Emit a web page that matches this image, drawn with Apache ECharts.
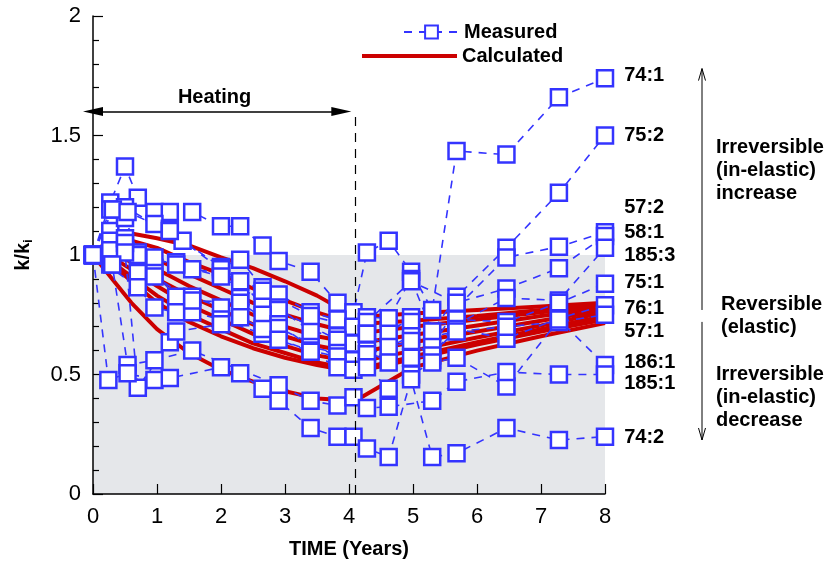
<!DOCTYPE html>
<html>
<head>
<meta charset="utf-8">
<script src="https://cdn.jsdelivr.net/npm/echarts@6/dist/echarts.min.js"></script>
<style>
html, body { margin: 0; padding: 0; background: #fff; }
#chart { width: 831px; height: 568px; }
</style>
</head>
<body>
<div id="chart"></div>
<script>
// measured k/ki, [time (years), value]
const s74_1 = [[0,1],[0.27,1.22],[0.5,1.37],[0.7,1.24],[0.96,1.18],[1.2,1.18],[1.55,1.18],[2.0,1.12],[2.3,1.12],[2.65,1.04],[2.9,0.975],[3.4,0.93],[3.82,0.80],[4.07,0.76],[4.28,1.01],[4.62,1.06],[4.97,0.93],[5.3,0.77],[5.68,1.435],[6.46,1.42],[7.28,1.66],[8,1.74]];
const s75_2 = [[0,1],[0.27,1.19],[0.5,1.2],[0.96,1.13],[1.2,1.11],[1.4,1.06],[2.0,0.95],[2.3,0.98],[2.65,0.865],[2.9,0.835],[3.4,0.76],[3.82,0.73],[4.07,0.69],[4.28,0.74],[4.62,0.735],[4.97,0.90],[5.3,0.68],[5.68,0.825],[6.46,1.03],[7.28,1.26],[8,1.5]];
const s57_2 = [[0,1],[0.27,1.10],[0.5,1.155],[0.7,1.01],[0.96,0.99],[1.3,0.97],[1.55,0.94],[2.0,0.925],[2.3,0.89],[2.65,0.79],[2.9,0.78],[3.4,0.68],[3.82,0.66],[4.07,0.63],[4.28,0.69],[4.62,0.67],[4.97,0.74],[5.3,0.615],[5.68,0.78],[6.46,0.99],[7.28,1.035],[8,1.095]];
const s58_1 = [[0,1],[0.31,1.19],[0.54,1.18],[1.2,1.10],[2.0,0.94],[2.65,0.85],[3.4,0.745],[4.07,0.70],[4.28,0.72],[4.97,0.89],[5.68,0.80],[6.46,0.86],[7.28,0.945],[8,1.08]];
const s185_3 = [[0,1],[0.27,1.06],[0.7,1.0],[1.3,0.96],[2.0,0.91],[2.9,0.77],[3.82,0.645],[4.28,0.67],[4.97,0.72],[5.68,0.71],[6.46,0.82],[7.28,0.81],[8,1.03]];
const s75_1 = [[0,1],[0.27,1.02],[0.5,1.07],[0.7,0.925],[0.96,0.925],[1.3,0.825],[1.55,0.825],[2.0,0.78],[2.3,0.82],[2.65,0.75],[2.9,0.71],[3.4,0.615],[3.82,0.59],[4.28,0.67],[4.62,0.615],[4.97,0.66],[5.3,0.56],[5.68,0.73],[6.46,0.72],[7.28,0.8],[8,0.88]];
const s76_1 = [[0,1],[0.7,0.865],[0.96,0.78],[1.3,0.76],[1.55,0.76],[2.0,0.73],[2.65,0.67],[3.4,0.60],[4.07,0.56],[4.28,0.6],[4.62,0.55],[4.97,0.57],[5.3,0.58],[5.68,0.69],[6.46,0.65],[7.28,0.735],[8,0.79]];
const s57_1 = [[0,1],[0.5,1.05],[0.96,0.91],[1.55,0.81],[2.3,0.80],[2.9,0.695],[3.82,0.575],[4.28,0.585],[4.97,0.64],[5.68,0.68],[6.46,0.70],[7.28,0.72],[8,0.75]];
const s186_1 = [[0,1],[0.27,0.96],[0.5,1.01],[0.7,0.445],[1.2,0.635],[1.3,0.68],[2.0,0.71],[2.3,0.74],[2.65,0.69],[2.9,0.645],[3.4,0.595],[3.82,0.53],[4.07,0.52],[4.28,0.53],[4.62,0.44],[4.97,0.50],[5.3,0.55],[5.68,0.57],[6.46,0.45],[7.28,0.73],[8,0.54]];
const s185_1 = [[0,1],[0.3,0.96],[0.54,0.54],[0.96,0.56],[1.55,0.6],[2.9,0.455],[3.4,0.39],[3.82,0.37],[4.07,0.405],[4.28,0.36],[4.62,0.365],[5.3,0.39],[5.68,0.47],[6.46,0.51],[7.28,0.5],[8,0.5]];
const s74_2 = [[0,1],[0.24,0.477],[0.54,0.505],[0.96,0.477],[1.2,0.485],[2.0,0.53],[2.3,0.505],[2.65,0.44],[2.9,0.39],[3.4,0.276],[3.82,0.24],[4.07,0.24],[4.28,0.19],[4.62,0.155],[4.97,0.48],[5.3,0.155],[5.68,0.17],[6.46,0.276],[7.28,0.226],[8,0.24]];

// calculated curves, sampled at calcT
const calcT = [0, 0.3, 0.6, 1, 1.5, 2, 2.5, 3, 3.5, 4.1, 5, 6, 7, 8];
const calc1 = [1.00,1.08,1.09,1.07,1.04,0.99,0.945,0.89,0.83,0.74,0.755,0.77,0.785,0.80];
const calc2 = [1.00,1.06,1.06,1.03,0.97,0.92,0.86,0.81,0.76,0.71,0.725,0.745,0.77,0.795];
const calc3 = [1.00,1.05,1.03,0.98,0.92,0.86,0.80,0.75,0.71,0.67,0.70,0.73,0.76,0.79];
const calc4 = [1.00,1.03,1.00,0.94,0.87,0.81,0.75,0.70,0.66,0.63,0.665,0.705,0.745,0.78];
const calc5 = [1.00,1.01,0.97,0.90,0.83,0.77,0.71,0.66,0.62,0.59,0.635,0.68,0.725,0.77];
const calc6 = [1.00,0.99,0.94,0.87,0.79,0.73,0.67,0.62,0.58,0.55,0.60,0.655,0.705,0.76];
const calc7 = [1.00,0.97,0.91,0.83,0.75,0.69,0.63,0.59,0.55,0.52,0.575,0.635,0.69,0.745];
const calc8 = [1.00,0.96,0.89,0.80,0.72,0.66,0.61,0.57,0.54,0.51,0.565,0.625,0.68,0.73];
const calc9 = [1.00,0.90,0.80,0.69,0.59,0.52,0.47,0.43,0.40,0.39,0.53,0.60,0.66,0.715];

const labelNames = ['74:1','75:2','57:2','58:1','185:3','75:1','76:1','57:1','186:1','185:1','74:2'];
const labelY = [1.753,1.502,1.2,1.096,1.0,0.883,0.778,0.678,0.552,0.464,0.238];

const measured = [s74_1, s75_2, s57_2, s58_1, s185_3, s75_1, s76_1, s57_1, s186_1, s185_1, s74_2];
const calculated = [calc1, calc2, calc3, calc4, calc5, calc6, calc7, calc8, calc9];

const FONT = '"Liberation Sans", Arial, sans-serif';
const BLUE = '#3434ff';
const RED = '#cc0000';

let chart = echarts.init(document.getElementById('chart'));

let series = [];
calculated.forEach(function (c, i) {
  let s = {
    name: 'Calculated',
    type: 'line',
    data: calcT.map(function (t, j) { return [t, c[j]]; }),
    symbol: 'none',
    z: 2,
    clip: false,
    lineStyle: { color: RED, width: 4 },
    itemStyle: { color: RED }
  };
  if (i === 0) {
    s.markArea = {
      silent: true,
      z: 0.5,
      itemStyle: { color: '#e5e7ea' },
      data: [[{ coord: [0, 0] }, { coord: [8, 1] }]]
    };
    s.markLine = {
      silent: true,
      label: { show: false },
      data: [
        [{ coord: [4.1, 0], symbol: 'none', lineStyle: { color: '#000', width: 1.2, type: [9, 7] } },
         { coord: [4.1, 1.6], symbol: 'none' }],
        [{ coord: [0, 1.6], symbol: 'triangle', symbolSize: [9, 20], lineStyle: { color: '#000', width: 1.5, type: 'solid' } },
         { coord: [3.88, 1.6], symbol: 'triangle', symbolSize: [9, 20] }]
      ]
    };
  }
  series.push(s);
});

measured.forEach(function (m) {
  series.push({
    name: 'Measured',
    type: 'line',
    data: m,
    z: 3,
    clip: false,
    symbol: 'rect',
    symbolSize: 16,
    itemStyle: { color: '#fff', borderColor: BLUE, borderWidth: 2.5 },
    lineStyle: { color: BLUE, width: 1.6, type: [8, 7] }
  });
});

const legendText = { fontSize: 20, fontWeight: 'bold', fontFamily: FONT, color: '#000' };

chart.setOption({
  animation: false,
  grid: { left: 93, right: 226, top: 16, bottom: 74 },
  legend: [
    { data: ['Measured'], left: 398, top: 17, itemWidth: 55, itemHeight: 16, textStyle: legendText },
    { data: [{ name: 'Calculated', icon: 'rect' }], left: 357, top: 41, itemWidth: 95, itemHeight: 4, textStyle: legendText }
  ],
  xAxis: {
    type: 'value', min: 0, max: 8, interval: 1, z: 1,
    name: 'TIME (Years)', nameLocation: 'middle', nameGap: 45,
    nameTextStyle: { fontSize: 20, fontWeight: 'bold', fontFamily: FONT, color: '#000' },
    axisLine: { lineStyle: { color: '#000', width: 1.5 } },
    axisTick: { inside: true, length: 10, lineStyle: { color: '#000', width: 1.2 } },
    axisLabel: { fontSize: 22, fontFamily: FONT, color: '#000', margin: 12 },
    splitLine: { show: false }
  },
  yAxis: {
    type: 'value', min: 0, max: 2, interval: 0.5, z: 1,
    name: 'k/k{s|i}', nameLocation: 'middle', nameGap: 58, nameRotate: 90,
    nameTextStyle: {
      fontSize: 20, fontWeight: 'bold', fontFamily: FONT, color: '#000', lineHeight: 24,
      rich: { s: { fontSize: 13, fontWeight: 'bold', fontFamily: FONT, lineHeight: 8, verticalAlign: 'bottom' } }
    },
    axisLine: { show: true, lineStyle: { color: '#000', width: 1.5 } },
    axisTick: { inside: true, length: 10, lineStyle: { color: '#000', width: 1.2 } },
    minorTick: { show: true, splitNumber: 5, length: 6, lineStyle: { color: '#000', width: 1.2 } },
    axisLabel: { fontSize: 22, fontFamily: FONT, color: '#000', margin: 12 },
    splitLine: { show: false }
  },
  series: series
});

const px = function (x, y) { return chart.convertToPixel({ gridIndex: 0 }, [x, y]); };
const bold20 = 'bold 20px ' + FONT;

let graphic = [];
labelNames.forEach(function (n, i) {
  let p = px(8.3, labelY[i]);
  graphic.push({ type: 'text', style: { text: n, x: p[0], y: p[1], font: bold20, fill: '#000', align: 'left', verticalAlign: 'middle' } });
});

let h = px(1.9, 1.6);
graphic.push({ type: 'text', style: { text: 'Heating', x: h[0], y: h[1] - 4, font: bold20, fill: '#000', align: 'center', verticalAlign: 'bottom' } });

// right-hand annotation arrows
let aTop = px(8, 1.78)[1], aMid1 = px(8, 0.77)[1], aMid2 = px(8, 0.72)[1], aBot = px(8, 0.226)[1];
const ax = 702;
graphic.push({ type: 'line', shape: { x1: ax, y1: aTop, x2: ax, y2: aMid1 }, style: { stroke: '#000', lineWidth: 1 } });
graphic.push({ type: 'polyline', shape: { points: [[ax - 3.5, aTop + 12], [ax, aTop], [ax + 3.5, aTop + 12]] }, style: { stroke: '#000', lineWidth: 1, fill: null } });
graphic.push({ type: 'line', shape: { x1: ax, y1: aMid2, x2: ax, y2: aBot }, style: { stroke: '#000', lineWidth: 1 } });
graphic.push({ type: 'polyline', shape: { points: [[ax - 3.5, aBot - 12], [ax, aBot], [ax + 3.5, aBot - 12]] }, style: { stroke: '#000', lineWidth: 1, fill: null } });

const blocks = [
  { text: 'Irreversible\n(in-elastic)\nincrease', x: 716, y: 170 },
  { text: 'Reversible\n(elastic)', x: 721, y: 316 },
  { text: 'Irreversible\n(in-elastic)\ndecrease', x: 716, y: 397 }
];
blocks.forEach(function (b) {
  graphic.push({ type: 'text', style: { text: b.text, x: b.x, y: b.y, font: bold20, lineHeight: 23, fill: '#000', align: 'left', verticalAlign: 'middle' } });
});

chart.setOption({ graphic: graphic });
</script>
</body>
</html>
